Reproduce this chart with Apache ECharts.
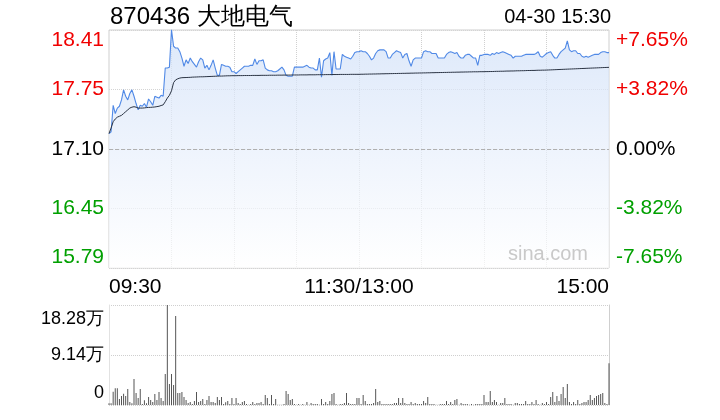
<!DOCTYPE html>
<html><head><meta charset="utf-8">
<script src="https://cdn.jsdelivr.net/npm/echarts@6/dist/echarts.min.js"></script>
<style>html,body{margin:0;padding:0;background:#fff}#c{width:720px;height:420px}</style>
</head><body><div id="c"></div>
<script>
const stockTitle = '870436 大地电气';
const stamp = '04-30 15:30';
const prevClose = 17.10;
const priceSpan = 1.3085;
const xTickIndex = [0, 120, 240];
const xTickLabels = ['09:30', '11:30/13:00', '15:00'];
const volMax = 182800;
const volTickLabels = ['0', '9.14万', '18.28万'];

const price = [
17.27,17.29,17.58,17.49,17.55,17.57,17.64,17.75,17.68,17.64,
17.71,17.75,17.68,17.60,17.53,17.58,17.57,17.60,17.56,17.65,
17.62,17.58,17.68,17.67,17.66,17.69,17.68,17.99,17.99,18.00,
18.41,18.23,18.21,18.21,18.17,18.10,18.01,18.08,18.04,18.10,
18.06,18.03,18.00,18.06,18.10,18.08,17.99,18.02,17.97,18.02,
18.08,17.99,17.91,17.91,18.03,18.02,18.01,18.01,18.00,17.95,
17.95,17.93,17.95,17.97,17.99,18.01,18.01,18.01,18.02,18.02,
18.09,18.03,18.07,18.07,18.08,17.99,17.97,17.96,17.96,17.95,
17.95,17.96,17.98,18.00,17.97,17.91,17.90,17.90,17.90,18.00,
18.00,18.00,18.00,18.00,18.01,18.02,18.00,17.99,17.99,17.97,
17.97,18.10,17.89,18.07,18.09,18.10,18.16,17.91,18.17,17.98,
17.98,17.98,18.14,18.12,18.11,18.10,18.09,18.12,18.16,18.17,
18.17,18.18,18.17,18.17,18.15,18.12,18.08,18.10,18.15,18.18,
18.19,18.19,18.19,18.17,18.10,18.10,18.14,18.16,18.18,18.17,
18.16,18.10,18.14,18.15,18.07,18.01,18.08,18.10,18.10,18.10,
18.10,18.17,18.18,18.17,18.17,18.15,18.15,18.15,18.10,18.10,
18.10,18.10,18.14,18.16,18.17,18.16,18.15,18.16,18.12,18.10,
18.10,18.13,18.14,18.14,18.12,18.10,18.10,18.02,18.13,18.13,
18.14,18.14,18.14,18.13,18.15,18.14,18.16,18.15,18.16,18.17,
18.16,18.15,18.14,18.13,18.10,18.12,18.12,18.12,18.12,18.13,
18.14,18.14,18.14,18.14,18.14,18.15,18.17,18.12,18.11,18.13,
18.15,18.16,18.17,18.13,18.10,18.10,18.14,18.17,18.19,18.21,
18.29,18.19,18.17,18.18,18.18,18.15,18.15,18.12,18.11,18.12,
18.11,18.12,18.13,18.14,18.14,18.14,18.16,18.17,18.17,18.16,
18.16
];

const avgPrice = [
17.270,17.330,17.400,17.430,17.450,17.460,17.470,17.490,17.510,17.530,
17.550,17.560,17.565,17.560,17.550,17.550,17.550,17.552,17.555,17.557,
17.558,17.560,17.562,17.566,17.570,17.578,17.585,17.620,17.660,17.690,
17.740,17.830,17.860,17.872,17.880,17.884,17.885,17.886,17.887,17.888,
17.890,17.891,17.892,17.893,17.894,17.894,17.895,17.896,17.897,17.898,
17.899,17.900,17.901,17.902,17.902,17.903,17.904,17.905,17.905,17.906,
17.906,17.906,17.907,17.907,17.907,17.908,17.908,17.908,17.908,17.909,
17.909,17.909,17.909,17.910,17.910,17.910,17.910,17.911,17.911,17.911,
17.911,17.912,17.912,17.912,17.913,17.913,17.913,17.913,17.914,17.914,
17.914,17.914,17.915,17.915,17.915,17.915,17.916,17.916,17.916,17.916,
17.917,17.917,17.917,17.917,17.918,17.918,17.918,17.919,17.919,17.919,
17.919,17.920,17.920,17.920,17.920,17.920,17.921,17.921,17.921,17.921,
17.921,17.922,17.922,17.923,17.923,17.924,17.924,17.925,17.925,17.926,
17.926,17.927,17.927,17.928,17.928,17.929,17.929,17.930,17.930,17.931,
17.931,17.932,17.932,17.933,17.933,17.934,17.934,17.935,17.935,17.936,
17.936,17.937,17.937,17.938,17.938,17.939,17.939,17.940,17.940,17.941,
17.941,17.942,17.942,17.943,17.943,17.944,17.944,17.945,17.945,17.946,
17.946,17.947,17.947,17.948,17.948,17.949,17.949,17.949,17.950,17.950,
17.950,17.951,17.951,17.952,17.952,17.953,17.954,17.954,17.955,17.955,
17.956,17.957,17.957,17.958,17.958,17.959,17.960,17.960,17.961,17.961,
17.962,17.963,17.963,17.964,17.964,17.965,17.966,17.966,17.967,17.967,
17.968,17.969,17.970,17.971,17.972,17.973,17.974,17.975,17.976,17.977,
17.978,17.979,17.980,17.981,17.982,17.983,17.984,17.985,17.986,17.987,
17.988,17.989,17.990,17.991,17.992,17.993,17.994,17.995,17.996,17.997,
17.998
];

const volume = [
3000,3000,24400,30500,30500,11000,16500,20700,16500,29200,
5500,3000,47500,21900,12800,29200,1800,8500,3000,14600,
9100,5500,20100,9100,23800,12800,7300,56700,182800,38400,
56700,36600,162700,21900,21900,23800,14600,9100,3700,5500,
1800,7300,23800,5500,7300,11000,1800,9100,16500,5500,
5500,3700,14600,9100,14600,1800,4900,7300,1800,12800,
1800,12800,3700,1800,5500,7300,1800,600,1800,5500,
1800,3700,3700,5500,1800,18300,12800,1800,18300,1800,
11000,600,600,600,1800,25600,20100,9100,11000,1800,
600,1800,600,1800,600,5500,600,3700,1800,1800,
1800,600,11000,1800,5500,1800,7300,20100,21900,1800,
600,1800,1800,3700,21900,3700,1800,1800,1800,12800,
12800,1800,18300,7300,1800,1800,1800,3700,29200,5500,
7300,1800,1800,1800,1800,1800,1800,3700,3700,12800,
3700,12800,3700,1800,1800,5500,1800,3700,1800,1800,
1800,7300,3700,14600,1800,1800,1800,600,600,1800,
1800,1800,7300,1800,5500,1800,9100,11000,600,3700,
1800,1800,1800,600,1800,600,1800,1800,1800,1800,
18300,5500,5500,25600,5500,9100,5500,600,3700,3700,
12800,1800,1800,1800,600,3700,3700,1800,1800,1800,
7300,1800,1800,5500,1800,9100,1800,600,3700,1800,
5500,1800,14600,23800,5500,16500,7300,20100,32900,12800,
38400,5500,1800,5500,1800,9100,1800,3700,5500,5500,
9100,18300,9100,12800,16500,18300,20100,21900,3700,1800,
76200
];

// minute categories 09:30-11:30, 13:01-15:00
const times = [];
for (let m = 570; m <= 690; m++) times.push(String(Math.floor(m / 60)).padStart(2, '0') + ':' + String(m % 60).padStart(2, '0'));
for (let m = 781; m <= 900; m++) times.push(String(Math.floor(m / 60)).padStart(2, '0') + ':' + String(m % 60).padStart(2, '0'));

const FONT = "'Liberation Sans', Arial, Helvetica, sans-serif";
const RED = '#f00000', GREEN = '#00a000';
const yMin = prevClose - priceSpan, yMax = prevClose + priceSpan;

function styleKey(v, idx, last) {
  let k = Math.abs(v - prevClose) < 0.01 ? 'flat' : (v > prevClose ? 'up' : 'dn');
  if (idx === 0) k += 'B';
  if (idx === last) k += 'T';
  return k;
}
function richFor(shiftTop, shiftBot, size) {
  const base = { fontFamily: FONT, fontSize: size };
  return {
    up: Object.assign({ color: RED }, base),
    upT: Object.assign({ color: RED, padding: [shiftTop, 0, 0, 0] }, base),
    flat: Object.assign({ color: '#000' }, base),
    dn: Object.assign({ color: GREEN }, base),
    dnB: Object.assign({ color: GREEN, padding: [0, 0, shiftBot, 0] }, base),
    blk: Object.assign({ color: '#000' }, base),
    blkT: Object.assign({ color: '#000', padding: [shiftTop, 0, 0, 0] }, base),
    blkB: Object.assign({ color: '#000', padding: [0, 0, shiftBot, 0] }, base)
  };
}

const chart = echarts.init(document.getElementById('c'), null, { renderer: 'canvas' });
chart.setOption({
  animation: false,
  backgroundColor: '#fff',
  textStyle: { fontFamily: FONT },
  title: [
    { text: stockTitle, left: 110, top: 5, padding: 0, textStyle: { fontFamily: FONT, fontSize: 24, fontWeight: 'normal', color: '#000' } },
    { text: stamp, right: 109, top: 7, padding: 0, textStyle: { fontFamily: FONT, fontSize: 20, fontWeight: 'normal', color: '#000' } }
  ],
  grid: [
    { left: 109, top: 30, width: 500, height: 238, show: true, borderColor: '#cfcfcf', borderWidth: 1, backgroundColor: 'transparent' },
    { left: 109, top: 305, width: 500, height: 100 }
  ],
  xAxis: [
    {
      type: 'category', gridIndex: 0, data: times, boundaryGap: false,
      axisLine: { show: false }, axisTick: { show: false },
      axisLabel: {
        interval: (i) => xTickIndex.indexOf(i) >= 0,
        formatter: (v, i) => { const k = xTickIndex.indexOf(i); return k >= 0 ? xTickLabels[k] : ''; },
        alignMinLabel: 'left', alignMaxLabel: 'right',
        color: '#000', fontFamily: FONT, fontSize: 21, margin: 9, showMinLabel: true, showMaxLabel: true
      },
      splitLine: { show: true, interval: (i) => i % 30 === 0 && i > 0 && i < 240, lineStyle: { color: '#d0d0d0', type: 'dotted', width: 1 } }
    },
    {
      type: 'category', gridIndex: 1, data: times, boundaryGap: false,
      axisLine: { show: false }, axisTick: { show: false }, axisLabel: { show: false }, splitLine: { show: false }
    }
  ],
  yAxis: [
    {
      type: 'value', gridIndex: 0, position: 'left', min: yMin, max: yMax, interval: priceSpan / 2,
      axisLine: { show: false }, axisTick: { show: false },
      axisLabel: {
        margin: 5,
        formatter: (v, i) => '{' + styleKey(v, i, 4) + '|' + v.toFixed(2) + '}',
        rich: richFor(20, 22, 21)
      },
      splitLine: { show: true, lineStyle: { color: '#d4d4d4', type: 'dotted', width: 1 } }
    },
    {
      type: 'value', gridIndex: 0, position: 'right', min: yMin, max: yMax, interval: priceSpan / 2,
      axisLine: { show: false }, axisTick: { show: false },
      axisLabel: {
        margin: 7,
        formatter: (v, i) => {
          const p = (v / prevClose - 1) * 100;
          const a = Math.floor(Math.abs(p) * 100 + 1e-6) / 100;
          const s = a < 0.005 ? '0.00%' : (p > 0 ? '+' : '-') + a.toFixed(2) + '%';
          return '{' + styleKey(v, i, 4) + '|' + s + '}';
        },
        rich: richFor(20, 22, 21)
      },
      splitLine: { show: false }
    },
    {
      type: 'value', gridIndex: 1, position: 'left', min: 0, max: volMax, interval: volMax / 2,
      axisLine: { show: true, lineStyle: { color: '#e2e2e2' } }, axisTick: { show: false },
      axisLabel: {
        margin: 5,
        formatter: (v, i) => '{' + (i === 0 ? 'blkB' : (i === 2 ? 'blkT' : 'blk')) + '|' + volTickLabels[i] + '}',
        rich: richFor(28, 24, 18)
      },
      splitLine: { show: true, lineStyle: { color: '#cfcfcf', type: 'dotted', width: 1 } }
    },
    {
      type: 'value', gridIndex: 1, position: 'right', min: 0, max: volMax, interval: volMax / 2,
      axisLine: { show: true, lineStyle: { color: '#cfcfcf' } }, axisTick: { show: false },
      axisLabel: { show: false }, splitLine: { show: false }
    }
  ],
  graphic: [
    { type: 'text', right: 132, top: 244, z: 50, style: { text: 'sina.com', fill: '#c9c9c9', font: "20px 'Liberation Sans', Arial, sans-serif" } }
  ],
  series: [
    {
      type: 'line', xAxisIndex: 0, yAxisIndex: 0, data: price, showSymbol: false, symbol: 'none', clip: false,
      lineStyle: { color: '#5089e6', width: 1.1 },
      areaStyle: {
        color: new echarts.graphic.LinearGradient(0, 0, 0, 1, [
          { offset: 0, color: '#cfdff8' }, { offset: 1, color: '#ffffff' }
        ])
      },
      markLine: {
        silent: true, symbol: 'none', label: { show: false },
        lineStyle: { color: '#b0b0b0', type: 'dashed', width: 1 },
        data: [{ yAxis: prevClose }]
      },
      z: 2
    },
    {
      type: 'line', xAxisIndex: 0, yAxisIndex: 0, data: avgPrice, showSymbol: false, symbol: 'none',
      lineStyle: { color: '#2b3444', width: 1 }, z: 3
    },
    {
      type: 'bar', xAxisIndex: 1, yAxisIndex: 2, data: volume, barWidth: 1,
      itemStyle: { color: '#555555' }
    }
  ]
});
</script>
</body></html>
